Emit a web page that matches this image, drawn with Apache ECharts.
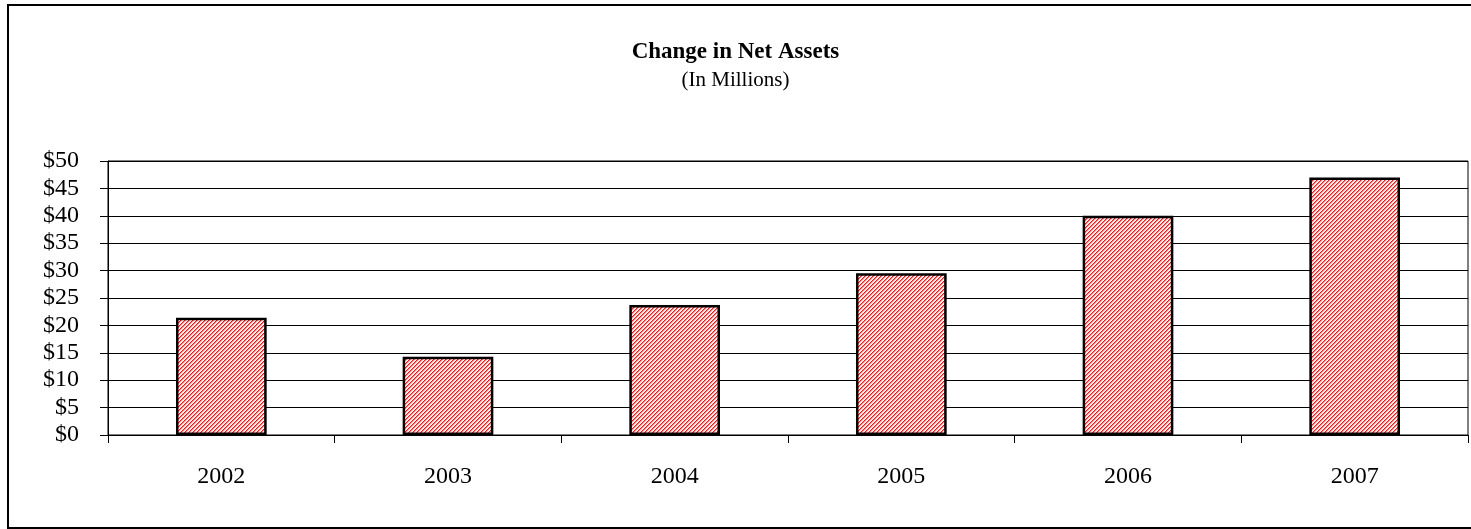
<!DOCTYPE html>
<html>
<head>
<meta charset="utf-8">
<script src="https://cdn.jsdelivr.net/npm/echarts@6/dist/echarts.min.js"></script>
<style>
  html, body { margin: 0; padding: 0; background: #fff; }
  #chart { width: 1471px; height: 529px; }
</style>
</head>
<body>
<div id="chart"></div>
<script>
// Change in net assets by fiscal year, in millions of dollars
const years = ['2002', '2003', '2004', '2005', '2006', '2007'];
const netAssetChange = [21.4, 14.3, 23.7, 29.5, 40.0, 47.0];
const yTicks = { min: 0, max: 50, interval: 5 };

// Diagonal red hatch used as the bar fill (one stripe every 4px)
const hatchShades = ['#ff1414', '#ff7a7a', '#ffe4e4', '#ffffff'];
function makeHatch() {
  const size = hatchShades.length;
  const c = document.createElement('canvas');
  c.width = size; c.height = size;
  const ctx = c.getContext('2d');
  for (let x = 0; x < size; x++) {
    for (let y = 0; y < size; y++) {
      ctx.fillStyle = hatchShades[(x + y) % size];
      ctx.fillRect(x, y, 1, 1);
    }
  }
  return c;
}

const serif = '"Liberation Serif", "Times New Roman", serif';
const chart = echarts.init(document.getElementById('chart'), null, { renderer: 'canvas' });

chart.setOption({
  animation: false,
  backgroundColor: '#ffffff',
  title: {
    text: 'Change in Net Assets',
    subtext: '(In Millions)',
    left: 'center',
    top: 36,
    itemGap: 6,
    textStyle: { fontFamily: serif, fontWeight: 'bold', fontSize: 23, color: '#000' },
    subtextStyle: { fontFamily: serif, fontSize: 21, color: '#000' }
  },
  graphic: [{
    type: 'rect',
    shape: { x: 8, y: 5, width: 1470, height: 523 },
    style: { fill: 'none', stroke: '#000', lineWidth: 2 },
    z: 100
  }],
  grid: {
    left: 108, right: 3, top: 161, bottom: 94,
    show: true, borderColor: '#000', borderWidth: 1,
    containLabel: false
  },
  xAxis: {
    type: 'category',
    data: years,
    axisLine: { lineStyle: { color: '#000', width: 1 } },
    axisTick: { show: true, alignWithLabel: false, length: 8, lineStyle: { color: '#000' } },
    axisLabel: { fontFamily: serif, fontSize: 24, color: '#000', margin: 30 },
    splitLine: { show: false }
  },
  yAxis: {
    type: 'value',
    min: yTicks.min, max: yTicks.max, interval: yTicks.interval,
    axisLine: { show: true, lineStyle: { color: '#000', width: 1 } },
    axisTick: { show: true, length: 8, lineStyle: { color: '#000' } },
    axisLabel: { fontFamily: serif, fontSize: 24, color: '#000', margin: 29,
      formatter: v => '$' + v },
    splitLine: { show: true, lineStyle: { color: '#000', width: 1 } }
  },
  series: [{
    type: 'bar',
    data: netAssetChange,
    barCategoryGap: '60%',
    itemStyle: {
      color: { image: makeHatch(), repeat: 'repeat' },
      borderColor: '#000',
      borderWidth: 2.5
    }
  }]
});
</script>
</body>
</html>
